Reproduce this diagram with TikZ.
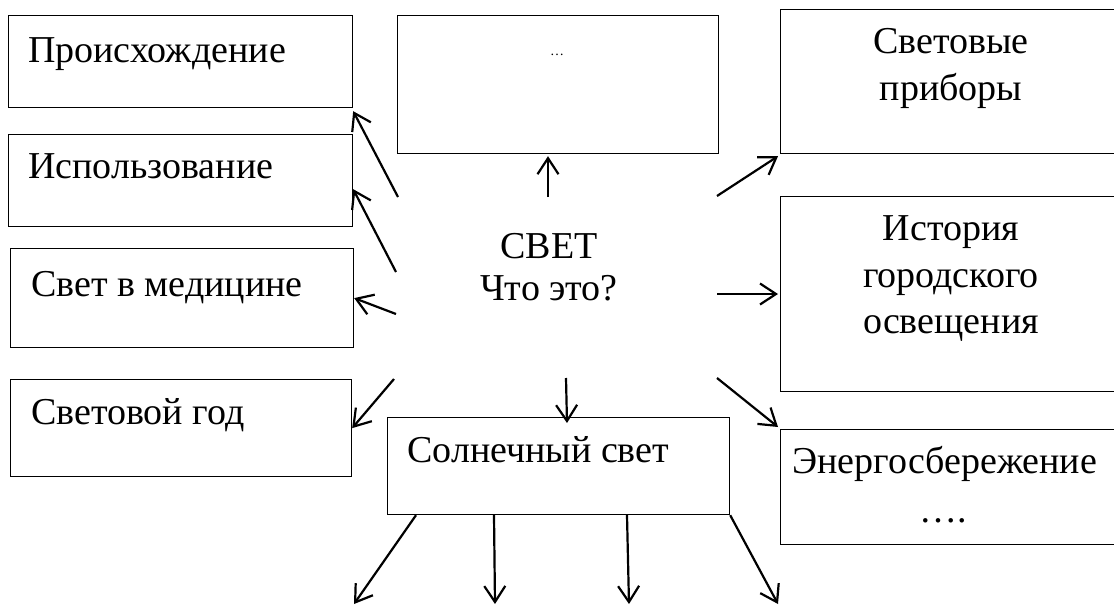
\documentclass[tikz,border=0pt]{standalone}
\usepackage{fontspec}
\setmainfont{Liberation Serif}
\usetikzlibrary{arrows.meta,calc}
\begin{document}
\begin{tikzpicture}[x=1pt,y=-1pt,
  box/.style={draw, line width=1.2pt, inner sep=0pt, anchor=north west},
  lbl/.style={font=\fontsize{38}{46}\selectfont, inner sep=0pt, anchor=base west},
  clbl/.style={font=\fontsize{38}{46}\selectfont, inner sep=0pt, anchor=base},
  arr/.style={line width=2.2pt, -{Straight Barb[length=16pt,width=21pt,line width=2.2pt]}}]
\useasboundingbox (0,0) rectangle (1114,605);
\clip (0,0) rectangle (1114,605);
% boxes
\node[box, minimum width=344pt, minimum height=92pt] (b1) at (8,15) {};
\node[box, minimum width=344pt, minimum height=92pt] (b2) at (8,134) {};
\node[box, minimum width=343pt, minimum height=99pt] (b3) at (10,248) {};
\node[box, minimum width=341pt, minimum height=97pt] (b4) at (10,379) {};
\node[box, minimum width=321pt, minimum height=138pt] (top) at (397,15) {};
\node[box, minimum width=345pt, minimum height=144pt] (b6) at (780,9) {};
\node[box, minimum width=345pt, minimum height=195pt] (b7) at (780,196) {};
\node[box, minimum width=345pt, minimum height=115pt] (b8) at (780,429) {};
\node[box, minimum width=342pt, minimum height=97pt] (sun) at (387,417) {};
% texts
\node[lbl] (t1) at (28,62) {Происхождение};
\node[lbl] (t2) at (28,178) {Использование};
\node[lbl] (t3) at (31,296) {Свет в медицине};
\node[lbl] (t4) at (31,424) {Световой год};
\node[lbl] (tsun) at (407,462) {Солнечный свет};
\node[lbl] (t8) at (792,473) {Энергосбережение};
\node[clbl] (t8b) at (943,522) {\dots.};
\node[clbl] (t6a) at (951,53) {Световые};
\node[clbl] (t6b) at (951,100) {приборы};
\node[clbl] (t7a) at (951,240) {История};
\node[clbl] (t7b) at (951,287) {городского};
\node[clbl] (t7c) at (951,333) {освещения};
\node[clbl] (c1) at (549,258) {СВЕТ};
\node[clbl] (c2) at (549,300) {Что это?};
\node[font=\fontsize{14}{16}\selectfont, inner sep=0pt, anchor=base] (ttop) at (557,55) {\dots};
% free ends
\coordinate (s1) at (398,197);
\coordinate (s2) at (396,272);
\coordinate (s3) at (396,314);
\coordinate (s4) at (394,379);
\coordinate (s5) at (548,197);
\coordinate (s6) at (717,196);
\coordinate (s7) at (717,294);
\coordinate (s8) at (717,378);
\coordinate (s9) at (566,378);
\coordinate (e1) at (354,604);
\coordinate (e2) at (495,604);
\coordinate (e3) at (629,604);
\coordinate (e4) at (778,604);
% arrows
\draw[arr] (s1) -- ($(b1.south east)+(0,3)$);
\draw[arr] (s2) -- ($(b2.south east)+(0,-38)$);
\draw[arr] (s3) -- (b3.east);
\draw[arr] (s4) -- (b4.east);
\draw[arr] (s5) -- ($(s5 |- top.south)+(0,2)$);
\draw[arr] (s6) -- ($(b6.south west)+(-2,2)$);
\draw[arr] (s7) -- ($(s7 -| b7.west)+(-2,0)$);
\draw[arr] (s8) -- ($(b8.north west)+(-2,-2)$);
\draw[arr] (s9) -- ($(s9 |- sun.north)+(1,6)$);
\draw[arr] ($(sun.south west)+(29,0)$) -- (e1);
\draw[arr] ($(sun.south west)+(107,0)$) -- (e2);
\draw[arr] ($(sun.south west)+(240,0)$) -- (e3);
\draw[arr] (sun.south east) -- (e4);
\end{tikzpicture}
\end{document}
